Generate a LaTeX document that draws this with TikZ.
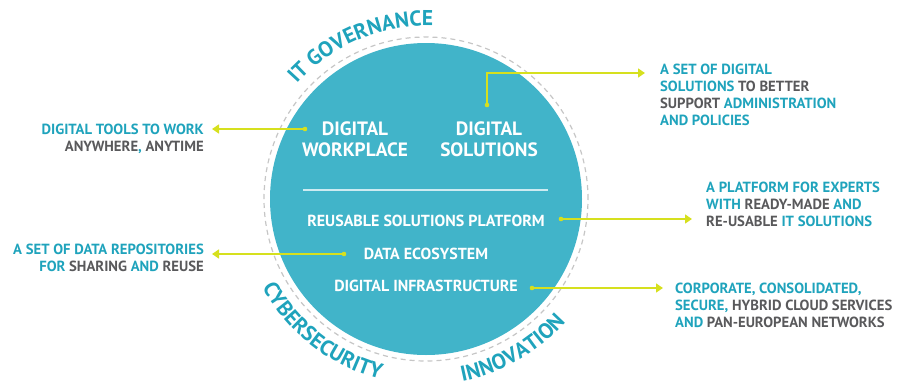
\documentclass[tikz,border=0pt]{standalone}
\usepackage{fontspec}
\setmainfont{PT Sans}
\usetikzlibrary{arrows.meta,decorations.text}

\definecolor{circfill}{HTML}{41B4C9}
\definecolor{txtteal}{HTML}{1FA3BC}
\definecolor{txtgray}{HTML}{59595B}
\definecolor{pointcol}{HTML}{D6E01E}
\definecolor{dashcol}{HTML}{C6C6C6}
\definecolor{divcol}{HTML}{CDEBF1}

\newcommand{\gy}[1]{\textcolor{txtgray}{#1}}
\newcommand{\arcfont}{\bfseries\fontsize{21.5}{21.5}\selectfont}

\tikzset{
  callout/.style={inner sep=0pt, text=txtteal, font=\bfseries\fontsize{14.7}{17}\selectfont},
  pointer/.style={draw=pointcol, line width=1.4pt, -{Triangle[length=7pt,width=9pt]}},
  dotmark/.style={fill=pointcol},
  item/.style={inner sep=0pt, text=white, font=\bfseries\fontsize{16}{17}\selectfont},
  bigitem/.style={inner sep=0pt, text=white, align=center, font=\bfseries\fontsize{19.3}{21}\selectfont},
  arctext/.style={decorate, decoration={text along path, text align=center, text color=txtteal}}
}

\begin{document}
\begin{tikzpicture}[x=1pt,y=-1pt]
        \useasboundingbox (0,0) rectangle (898,386);
        % Circle and dashed ring
        \coordinate (c) at (426,199);
        \draw[dashcol, line width=1.2pt, dash pattern=on 5pt off 4pt] (c) circle (162pt);
        \fill[circfill] (c) circle (156pt);
        % Words round the ring
        \path[arctext, decoration={text={|\arcfont|IT GOVERNANCE}}]
            (c) ++(162:173pt) arc[start angle=162, end angle=64, radius=173pt];
        \path[arctext, decoration={text={|\arcfont|CYBERSECURITY}}]
            (c) ++(192:186pt) arc[start angle=192, end angle=272, radius=186pt];
        \path[arctext, decoration={text={|\arcfont|INNOVATION}}]
            (c) ++(267:186pt) arc[start angle=267, end angle=333, radius=186pt];
        % Items inside the circle
        \node[bigitem] (workplace) at (355,139.5) {DIGITAL\\WORKPLACE};
        \node[bigitem] (solutions) at (489,139.5) {DIGITAL\\SOLUTIONS};
        \draw[divcol, line width=1.2pt] (303,190) -- (548,190);
        \node[item] (platform) at (426,221) {REUSABLE SOLUTIONS PLATFORM};
        \node[item] (ecosystem) at (426,254) {DATA ECOSYSTEM};
        \node[item] (infra) at (426,286) {DIGITAL INFRASTRUCTURE};
        % Callouts
        \node[callout, anchor=north east, align=right] (toolstext) at (204,124)
            {DIGITAL TOOLS TO WORK\\\gy{ANYWHERE}, \gy{ANYTIME}};
        \node[callout, anchor=north east, align=right] (datatext) at (204,244)
            {A SET OF DATA REPOSITORIES\\FOR \gy{SHARING} AND \gy{REUSE}};
        \node[callout, anchor=north west, align=left] (soltext) at (660,64)
            {A SET OF DIGITAL\\SOLUTIONS \gy{TO BETTER}\\\gy{SUPPORT} ADMINISTRATION\\AND POLICIES};
        \node[callout, anchor=north west, align=left] (platext) at (706,182)
            {A PLATFORM FOR EXPERTS\\WITH \gy{READY-MADE} AND\\\gy{RE-USABLE} IT SOLUTIONS};
        \node[callout, anchor=north west, align=left] (infratext) at (675,283)
            {CORPORATE, CONSOLIDATED,\\SECURE, \gy{HYBRID CLOUD SERVICES}\\AND \gy{PAN-EUROPEAN NETWORKS}};
        % Pointers
        \coordinate (toolsdot) at (305,129);
        \coordinate (toolstip) at (212,129);
        \coordinate (datadot) at (344,254);
        \coordinate (datatip) at (212,254);
        \coordinate (soldot) at (487,105);
        \coordinate (soltip) at (645,73);
        \coordinate (pladot) at (561,219);
        \coordinate (platip) at (692,219);
        \coordinate (infradot) at (532,288);
        \coordinate (infratip) at (663,288);
        \foreach \p in {tools,data,pla,infra} {
            \fill[dotmark] (\p dot) circle (2.3pt);
            \draw[pointer] (\p dot) -- (\p tip);
        }
        \fill[dotmark] (soldot) circle (2.3pt);
        \draw[pointer] (soldot) |- (soltip);
\end{tikzpicture}
\end{document}
